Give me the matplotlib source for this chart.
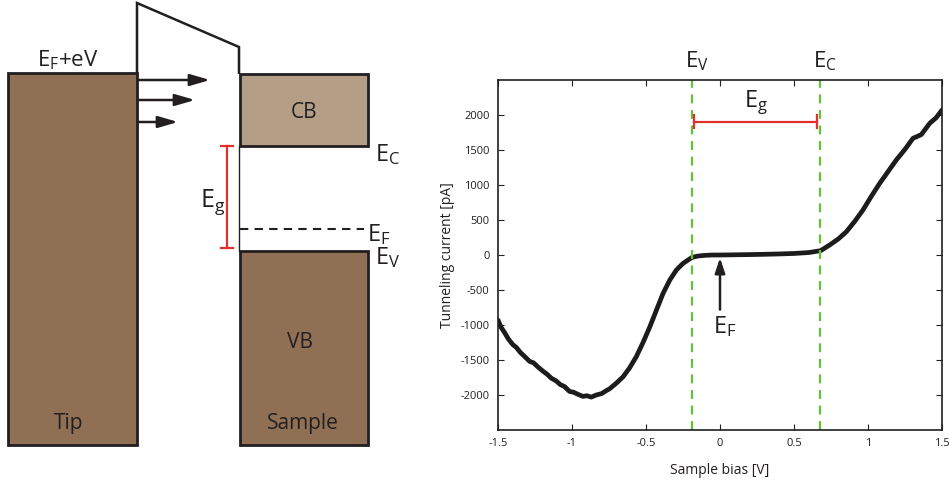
import matplotlib
matplotlib.use('Agg')
import matplotlib.pyplot as plt
from matplotlib.patches import Rectangle, Polygon

plt.rcParams['font.family'] = ['Open Sans', 'DejaVu Sans']
plt.rcParams['mathtext.fontset'] = 'custom'
plt.rcParams['mathtext.rm'] = 'Open Sans'
plt.rcParams['mathtext.it'] = 'Open Sans'
plt.rcParams['axes.unicode_minus'] = False

bias = [-1.5, -1.48, -1.455, -1.43, -1.40, -1.376, -1.35, -1.32, -1.286, -1.26,
        -1.23, -1.196, -1.17, -1.14, -1.106, -1.08, -1.05, -1.016, -0.99, -0.96,
        -0.926, -0.90, -0.87, -0.836, -0.80, -0.77, -0.745, -0.70, -0.655, -0.61,
        -0.565, -0.52, -0.475, -0.43, -0.385, -0.34, -0.295, -0.25, -0.19, -0.15,
        -0.1, -0.05, 0.0, 0.1, 0.2, 0.3, 0.4, 0.5, 0.6, 0.68,
        0.741, 0.8, 0.854, 0.91, 0.966, 1.02, 1.079, 1.135, 1.191, 1.25,
        1.304, 1.36, 1.417, 1.46, 1.5]
current = [-930, -1030, -1110, -1200, -1280, -1320, -1390, -1450, -1520, -1540,
           -1600, -1660, -1700, -1760, -1800, -1850, -1880, -1950, -1960, -1990,
           -2020, -2010, -2030, -2000, -1980, -1940, -1910, -1830, -1740, -1610,
           -1450, -1250, -1030, -790, -550, -360, -215, -120, -35, -15,
           -5, 0, 0, 3, 6, 10, 15, 22, 35, 62,
           143, 230, 333, 480, 643, 830, 1024, 1190, 1357, 1510,
           1667, 1720, 1881, 1960, 2071]

E_v = -0.189
E_c = 0.678
gap_bar = [-0.176, 0.657]
gap_y = 1905
xticks = [-1.5, -1, -0.5, 0, 0.5, 1, 1.5]
xticklabels = ['-1.5', '-1', '-0.5', '0', '0.5', '1', '1.5']
yticks = [-2000, -1500, -1000, -500, 0, 500, 1000, 1500, 2000]

# band diagram geometry (pixel units of the figure)
tip_box = (8, 73, 129, 372)
cb_box = (240, 74, 128, 72)
vb_box = (240, 251, 128, 194)
barrier = [(137, 73), (137, 3), (239, 47), (239, 74)]
arrows_y = [80, 100, 122]
arrows_end = [210, 195, 178]

brown = '#907055'
light_brown = '#b59e86'
edge = '#231f20'
red = '#e2312d'
green = '#62c23a'

fig = plt.figure(figsize=(9.49, 4.87), dpi=100)

# left schematic
dia = fig.add_axes([0, 0, 1, 1])
dia.set_xlim(0, 949)
dia.set_ylim(487, 0)
dia.axis('off')

for (x, y, w, h), c in [(tip_box, brown), (cb_box, light_brown), (vb_box, brown)]:
    dia.add_patch(Rectangle((x, y), w, h, facecolor=c, edgecolor=edge, lw=2))
dia.add_patch(Polygon(barrier, closed=False, fill=False, edgecolor=edge, lw=1.8))
dia.plot([239, 239], [146, 251], color=edge, lw=1.0)
for y, xe in zip(arrows_y, arrows_end):
    dia.annotate('', xy=(xe, y), xytext=(139, y),
                 arrowprops=dict(arrowstyle='-|>,head_length=1.2,head_width=0.35',
                                 color=edge, lw=1.8, shrinkA=0, shrinkB=0))
# gap bar
dia.plot([227, 227], [146, 248], color=red, lw=1.6)
dia.plot([221, 233], [146, 146], color=red, lw=1.6)
dia.plot([221, 233], [248, 248], color=red, lw=1.6)
dia.plot([240, 364], [229, 229], color=edge, lw=1.5, ls=(0, (4, 3)))

dia.text(68, 60, r'$\mathrm{E_F}$+eV', fontsize=16, ha='center', va='center', color=edge)
dia.text(213, 202, r'$\mathrm{E_g}$', fontsize=18, ha='center', va='center', color=edge)
dia.text(375, 155, r'$\mathrm{E_C}$', fontsize=17, ha='left', va='center', color=edge)
dia.text(367, 235, r'$\mathrm{E_F}$', fontsize=17, ha='left', va='center', color=edge)
dia.text(375, 258, r'$\mathrm{E_V}$', fontsize=17, ha='left', va='center', color=edge)
dia.text(304, 113, 'CB', fontsize=15, ha='center', va='center', color=edge)
dia.text(300, 343, 'VB', fontsize=15, ha='center', va='center', color=edge)
dia.text(69, 423, 'Tip', fontsize=15, ha='center', va='center', color=edge)
dia.text(303, 423, 'Sample', fontsize=15, ha='center', va='center', color=edge)

# right I-V curve
ax = fig.add_axes([498 / 949, 57 / 487, 444 / 949, 350 / 487])
ax.plot(bias, current, color='#1c1c1c', lw=3.4, solid_capstyle='round',
        solid_joinstyle='round')
ax.axvline(E_v, color=green, lw=1.6, ls=(0, (4, 3)))
ax.axvline(E_c, color=green, lw=1.6, ls=(0, (4, 3)))
ax.plot(gap_bar, [gap_y, gap_y], color=red, lw=1.6)
ax.plot([gap_bar[0]] * 2, [gap_y - 90, gap_y + 90], color=red, lw=1.6)
ax.plot([gap_bar[1]] * 2, [gap_y - 90, gap_y + 90], color=red, lw=1.6)
ax.text(sum(gap_bar) / 2, 2180, r'$\mathrm{E_g}$', fontsize=17, ha='center', va='center', color=edge)
ax.text(E_v + 0.03, 2770, r'$\mathrm{E_V}$', fontsize=16, ha='center', va='center',
        color=edge, clip_on=False)
ax.text(E_c + 0.03, 2770, r'$\mathrm{E_C}$', fontsize=16, ha='center', va='center',
        color=edge, clip_on=False)
ax.annotate('', xy=(0, -40), xytext=(0, -780),
            arrowprops=dict(arrowstyle='-|>,head_length=0.9,head_width=0.3',
                            color=edge, lw=1.8, shrinkA=0, shrinkB=0))
ax.text(0.03, -1030, r'$\mathrm{E_F}$', fontsize=17, ha='center', va='center', color=edge)

ax.set_xlim(-1.5, 1.5)
ax.set_ylim(-2500, 2500)
ax.set_xticks(xticks)
ax.set_xticklabels(xticklabels)
ax.set_yticks(yticks)
ax.tick_params(direction='in', top=True, right=True, labelsize=8, colors=edge, length=4, pad=6)
ax.set_xlabel('Sample bias [V]', fontsize=10, color=edge, labelpad=10)
ax.set_ylabel('Tunneling current [pA]', fontsize=10, color=edge, labelpad=4)
for s in ax.spines.values():
    s.set_color(edge)
    s.set_linewidth(1.2)

fig.savefig('out.png', dpi=100)
